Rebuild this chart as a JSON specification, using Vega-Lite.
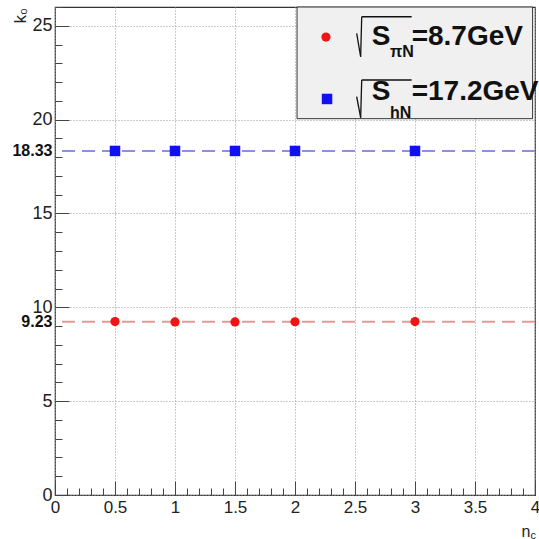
{
  "$schema": "https://vega.github.io/schema/vega-lite/v6.json",
  "width": 480,
  "height": 488,
  "autosize": "none",
  "padding": {"left": 55, "top": 7, "right": 4, "bottom": 44},
  "background": "white",
  "config": {
    "view": {"stroke": "#333", "strokeWidth": 1.2},
    "font": "Liberation Sans",
    "axis": {"labelFont": "Liberation Sans", "titleFont": "Liberation Sans", "labelOverlap": false, "labelFlush": false, "labelBound": false}
  },
  "datasets": {
    "points": [
      {"series": "πN", "sqrt_s": 8.7, "n_c": 0.5, "k0": 9.24},
      {"series": "πN", "sqrt_s": 8.7, "n_c": 1.0, "k0": 9.22},
      {"series": "πN", "sqrt_s": 8.7, "n_c": 1.5, "k0": 9.22},
      {"series": "πN", "sqrt_s": 8.7, "n_c": 2.0, "k0": 9.23},
      {"series": "πN", "sqrt_s": 8.7, "n_c": 3.0, "k0": 9.24},
      {"series": "hN", "sqrt_s": 17.2, "n_c": 0.5, "k0": 18.33},
      {"series": "hN", "sqrt_s": 17.2, "n_c": 1.0, "k0": 18.33},
      {"series": "hN", "sqrt_s": 17.2, "n_c": 1.5, "k0": 18.33},
      {"series": "hN", "sqrt_s": 17.2, "n_c": 2.0, "k0": 18.33},
      {"series": "hN", "sqrt_s": 17.2, "n_c": 3.0, "k0": 18.33}
    ],
    "fits": [
      {"series": "πN", "k0": 9.23},
      {"series": "hN", "k0": 18.33}
    ],
    "one": [{}]
  },
  "layer": [
    {
      "data": {"name": "fits"},
      "mark": {"type": "rule", "strokeWidth": 2, "strokeDash": [13, 7]},
      "encoding": {
        "y": {"field": "k0", "type": "quantitative", "scale": {"domain": [0, 26], "nice": false, "zero": false},
          "axis": {"orient": "left", "values": [9.23, 18.33], "format": ".2f", "labelFontWeight": "bold", "labelFontSize": 16, "labelColor": "#111", "labelPadding": 3, "ticks": false, "grid": false, "domain": false, "title": null, "labelOverlap": false}},
        "color": {"field": "series", "type": "nominal", "scale": {"domain": ["πN", "hN"], "range": ["#e89696", "#8e8ee2"]}, "legend": null}
      }
    },
    {
      "data": {"name": "points"},
      "mark": {"type": "point", "filled": true, "opacity": 1},
      "encoding": {
        "x": {"field": "n_c", "type": "quantitative", "scale": {"domain": [0, 4], "nice": false, "zero": false},
          "axis": {"orient": "bottom", "values": [0, 0.5, 1, 1.5, 2, 2.5, 3, 3.5, 4], "format": "~g", "labelFontSize": 17, "labelColor": "#222", "labelPadding": 4, "grid": true, "gridDash": [1, 2], "gridColor": "#999", "gridWidth": 1, "ticks": false, "domain": false,
            "title": "n", "titleFontSize": 16, "titleFontWeight": "normal", "titleColor": "#222", "titleX": 475, "titleY": 41, "titleAlign": "right", "titleBaseline": "alphabetic", "titleAnchor": null}},
        "y": {"field": "k0", "type": "quantitative", "scale": {"domain": [0, 26], "nice": false, "zero": false},
          "axis": {"orient": "left", "values": [0, 5, 10, 15, 20, 25], "format": "d", "labelFontSize": 18, "labelColor": "#222", "labelPadding": 3, "grid": true, "gridDash": [1, 2], "gridColor": "#999", "gridWidth": 1, "ticks": false, "domain": false,
            "title": "k₀", "titleFontSize": 17, "titleFontWeight": "normal", "titleColor": "#222", "titleAngle": -90, "titleX": -30, "titleY": 16, "titleAlign": "left", "titleBaseline": "alphabetic", "titleAnchor": null}},
        "shape": {"field": "series", "type": "nominal", "scale": {"domain": ["πN", "hN"], "range": ["circle", "square"]}, "legend": null},
        "color": {"field": "series", "type": "nominal", "scale": {"domain": ["πN", "hN"], "range": ["#f01414", "#1010f0"]}, "legend": null},
        "size": {"field": "series", "type": "nominal", "scale": {"domain": ["πN", "hN"], "range": [85, 110]}, "legend": null}
      }
    },
    {
      "data": {"name": "one"},
      "mark": {"type": "rect", "fill": "#f0f0f0", "stroke": "#333", "strokeWidth": 1},
      "encoding": {
        "x": {"datum": 2.017, "type": "quantitative", "scale": {"domain": [0, 4], "nice": false, "zero": false},
          "axis": {"orient": "bottom", "values": [0, 0.5, 1, 1.5, 2, 2.5, 3, 3.5, 4], "labels": false, "ticks": true, "tickSize": -14, "tickColor": "#444", "tickWidth": 1, "grid": false, "domain": false, "title": null}},
        "x2": {"datum": 3.98},
        "y": {"datum": 26, "type": "quantitative", "scale": {"domain": [0, 26], "nice": false, "zero": false},
          "axis": {"orient": "left", "values": [0, 5, 10, 15, 20, 25], "labels": false, "ticks": true, "tickSize": -14, "tickColor": "#444", "tickWidth": 1, "grid": false, "domain": false, "title": null}},
        "y2": {"datum": 20.05}
      }
    },
    {
      "data": {"name": "one"},
      "mark": {"type": "point", "shape": "circle", "filled": true, "opacity": 1, "color": "#f01414", "size": 85},
      "encoding": {
        "x": {"datum": 2.258, "type": "quantitative", "scale": {"domain": [0, 4], "nice": false, "zero": false},
          "axis": {"orient": "bottom", "values": [0, 0.1, 0.2, 0.3, 0.4, 0.5, 0.6, 0.7, 0.8, 0.9, 1, 1.1, 1.2, 1.3, 1.4, 1.5, 1.6, 1.7, 1.8, 1.9, 2, 2.1, 2.2, 2.3, 2.4, 2.5, 2.6, 2.7, 2.8, 2.9, 3, 3.1, 3.2, 3.3, 3.4, 3.5, 3.6, 3.7, 3.8, 3.9, 4], "labels": false, "ticks": true, "tickSize": -7, "tickColor": "#444", "tickWidth": 1, "grid": false, "domain": false,
            "title": "c", "titleFontSize": 11, "titleFontWeight": "normal", "titleColor": "#222", "titleX": 475, "titleY": 43, "titleAlign": "left", "titleBaseline": "alphabetic", "titleAnchor": null}},
        "y": {"datum": 24.4, "type": "quantitative", "scale": {"domain": [0, 26], "nice": false, "zero": false},
          "axis": {"orient": "left", "values": [0, 1, 2, 3, 4, 5, 6, 7, 8, 9, 10, 11, 12, 13, 14, 15, 16, 17, 18, 19, 20, 21, 22, 23, 24, 25, 26], "labels": false, "ticks": true, "tickSize": -7, "tickColor": "#444", "tickWidth": 1, "grid": false, "domain": false, "title": null}}
      }
    },
    {
      "data": {"name": "one"},
      "mark": {"type": "point", "shape": "square", "filled": true, "opacity": 1, "color": "#1010f0", "size": 110},
      "encoding": {
        "x": {"datum": 2.267, "type": "quantitative", "axis": null},
        "y": {"datum": 21.1, "type": "quantitative", "axis": null}
      }
    },
    {
      "data": {"name": "one"},
      "mark": {"type": "rule", "color": "#111", "strokeWidth": 1.3},
      "encoding": {"x": {"datum": 2.514, "type": "quantitative", "axis": null}, "x2": {"datum": 2.547}, "y": {"datum": 24.6, "type": "quantitative", "axis": null}, "y2": {"datum": 23.35}}
    },
    {
      "data": {"name": "one"},
      "mark": {"type": "rule", "color": "#111", "strokeWidth": 1.3},
      "encoding": {"x": {"datum": 2.547, "type": "quantitative", "axis": null}, "x2": {"datum": 2.556}, "y": {"datum": 23.35, "type": "quantitative", "axis": null}, "y2": {"datum": 25.48}}
    },
    {
      "data": {"name": "one"},
      "mark": {"type": "rule", "color": "#111", "strokeWidth": 1.3},
      "encoding": {"x": {"datum": 2.556, "type": "quantitative", "axis": null}, "x2": {"datum": 2.972}, "y": {"datum": 25.48, "type": "quantitative", "axis": null}, "y2": {"datum": 25.48}}
    },
    {
      "data": {"name": "one"},
      "mark": {"type": "rule", "color": "#111", "strokeWidth": 1.3},
      "encoding": {"x": {"datum": 2.514, "type": "quantitative", "axis": null}, "x2": {"datum": 2.547}, "y": {"datum": 21.22, "type": "quantitative", "axis": null}, "y2": {"datum": 20.1}}
    },
    {
      "data": {"name": "one"},
      "mark": {"type": "rule", "color": "#111", "strokeWidth": 1.3},
      "encoding": {"x": {"datum": 2.547, "type": "quantitative", "axis": null}, "x2": {"datum": 2.556}, "y": {"datum": 20.1, "type": "quantitative", "axis": null}, "y2": {"datum": 22.11}}
    },
    {
      "data": {"name": "one"},
      "mark": {"type": "rule", "color": "#111", "strokeWidth": 1.3},
      "encoding": {"x": {"datum": 2.556, "type": "quantitative", "axis": null}, "x2": {"datum": 2.972}, "y": {"datum": 22.11, "type": "quantitative", "axis": null}, "y2": {"datum": 22.11}}
    },
    {
      "data": {"name": "one"},
      "mark": {"type": "text", "text": "S", "font": "Liberation Sans", "fontSize": 28, "fontWeight": "bold", "align": "left", "baseline": "alphabetic", "color": "#111"},
      "encoding": {"x": {"datum": 2.639, "type": "quantitative", "axis": null}, "y": {"datum": 23.97, "type": "quantitative", "axis": null}}
    },
    {
      "data": {"name": "one"},
      "mark": {"type": "text", "text": "πN", "font": "Liberation Sans", "fontSize": 16, "fontWeight": "bold", "align": "left", "baseline": "alphabetic", "color": "#111"},
      "encoding": {"x": {"datum": 2.792, "type": "quantitative", "axis": null}, "y": {"datum": 23.35, "type": "quantitative", "axis": null}}
    },
    {
      "data": {"name": "one"},
      "mark": {"type": "text", "text": "=8.7GeV", "font": "Liberation Sans", "fontSize": 28, "fontWeight": "bold", "align": "left", "baseline": "alphabetic", "color": "#111"},
      "encoding": {"x": {"datum": 2.972, "type": "quantitative", "axis": null}, "y": {"datum": 23.97, "type": "quantitative", "axis": null}}
    },
    {
      "data": {"name": "one"},
      "mark": {"type": "text", "text": "S", "font": "Liberation Sans", "fontSize": 28, "fontWeight": "bold", "align": "left", "baseline": "alphabetic", "color": "#111"},
      "encoding": {"x": {"datum": 2.639, "type": "quantitative", "axis": null}, "y": {"datum": 21.04, "type": "quantitative", "axis": null}}
    },
    {
      "data": {"name": "one"},
      "mark": {"type": "text", "text": "hN", "font": "Liberation Sans", "fontSize": 16, "fontWeight": "bold", "align": "left", "baseline": "alphabetic", "color": "#111"},
      "encoding": {"x": {"datum": 2.792, "type": "quantitative", "axis": null}, "y": {"datum": 20.1, "type": "quantitative", "axis": null}}
    },
    {
      "data": {"name": "one"},
      "mark": {"type": "text", "text": "=17.2GeV", "font": "Liberation Sans", "fontSize": 28, "fontWeight": "bold", "align": "left", "baseline": "alphabetic", "color": "#111"},
      "encoding": {"x": {"datum": 2.972, "type": "quantitative", "axis": null}, "y": {"datum": 21.04, "type": "quantitative", "axis": null}}
    }
  ],
  "resolve": {"axis": {"x": "independent", "y": "independent"}, "scale": {"color": "independent"}}
}
